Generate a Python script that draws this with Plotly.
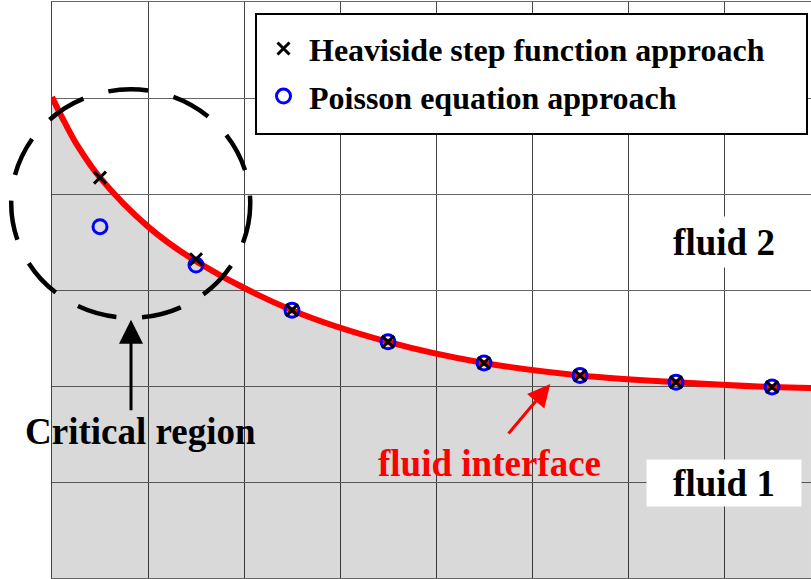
import plotly.graph_objects as go

# ---------------- data (grid-cell units) ----------------
interface_x = [0.0, 0.135, 0.274, 0.5, 1.0, 1.5, 2.5, 3.5, 4.5,
               5.5, 6.5, 7.5, 7.906]
interface_y = [5.01, 4.74, 4.49, 4.17, 3.66, 3.30, 2.79, 2.46, 2.24,
               2.11, 2.04, 1.99, 1.98]

sample_x = [0.5, 1.5, 2.5, 3.5, 4.5, 5.5, 6.5, 7.5]
heaviside_y = [4.17, 3.32, 2.79, 2.46, 2.24, 2.11, 2.04, 1.99]
poisson_y = [3.66, 3.26, 2.79, 2.46, 2.24, 2.11, 2.04, 1.99]

series_names = ["Heaviside step function approach", "Poisson equation approach"]

# ---------------- layout constants ----------------
X_RANGE = [0.0, 759 / 96]
Y_RANGE = [0.0, 6.0]
PLOT_W, PLOT_H = 759, 576
SERIF = "Liberation Serif, Times New Roman, serif"
NBSP = "\u00a0"

# critical region (data units): centre and radii
CRIT_CX, CRIT_CY = 0.82, 3.90
CRIT_RX, CRIT_RY = 1.245, 1.19

# legend frame (paper fractions)
LEG_X0, LEG_X1 = 204 / PLOT_W, 755 / PLOT_W
LEG_Y0, LEG_Y1 = 444 / PLOT_H, 564 / PLOT_H


def px_x(x):
    return (x - X_RANGE[0]) / (X_RANGE[1] - X_RANGE[0])


def px_y(y):
    return (y - Y_RANGE[0]) / (Y_RANGE[1] - Y_RANGE[0])


fig = go.Figure()

fig.add_trace(go.Scatter(
    x=interface_x, y=interface_y, mode="lines",
    line=dict(color="#ff0000", width=6, shape="spline", smoothing=1.0),
    fill="tozeroy", fillcolor="rgba(0,0,0,0.15)",
    showlegend=False, hoverinfo="skip",
))

fig.add_trace(go.Scatter(
    x=sample_x, y=poisson_y, mode="markers", name=series_names[1],
    legendrank=2, legendgroup="p",
    marker=dict(symbol="circle-open", size=14, color="#0000ff",
                line=dict(color="#0000ff", width=3)),
))

fig.add_trace(go.Scatter(
    x=sample_x, y=heaviside_y, mode="markers",
    name=series_names[0],
    legendrank=1, legendgroup="h",
    marker=dict(symbol="x-thin", size=12, color="#000000",
                line=dict(color="#000000", width=3)),
))

# legend frame
fig.add_shape(
    type="rect", xref="paper", yref="paper",
    x0=LEG_X0, x1=LEG_X1, y0=LEG_Y0, y1=LEG_Y1,
    fillcolor="#ffffff", line=dict(color="#000000", width=2), layer="above",
)

# dashed circle marking the critical region (paper refs so it is not clipped)
fig.add_shape(
    type="circle", xref="paper", yref="paper",
    x0=px_x(CRIT_CX - CRIT_RX), x1=px_x(CRIT_CX + CRIT_RX),
    y0=px_y(CRIT_CY - CRIT_RY), y1=px_y(CRIT_CY + CRIT_RY),
    line=dict(color="#000000", width=4.5, dash="40px,26px"),
    layer="above",
)

annotations = [
    # arrow to critical region
    dict(x=0.823, y=2.69, xref="x", yref="y", text="", showarrow=True,
         ax=0, ay=92, arrowhead=2, arrowsize=1.6, arrowwidth=3,
         arrowcolor="#000000"),
    dict(x=0.92, y=1.53, xref="x", yref="y", text="Critical region",
         showarrow=False,
         font=dict(family=SERIF, size=37, color="#000000", weight="bold")),
    # arrow to interface
    dict(x=5.19, y=2.02, xref="x", yref="y", text="", showarrow=True,
         ax=-43, ay=51, arrowhead=2, arrowsize=1.5, arrowwidth=3,
         arrowcolor="#ff0000"),
    dict(x=4.555, y=1.19, xref="x", yref="y", text="fluid interface",
         showarrow=False,
         font=dict(family=SERIF, size=37, color="#ff0000", weight="bold")),
    dict(x=7.0, y=3.495, xref="x", yref="y", text="fluid 2",
         showarrow=False, bgcolor="#ffffff", width=120, height=48,
         font=dict(family=SERIF, size=37, color="#000000", weight="bold")),
    dict(x=7.0, y=0.99, xref="x", yref="y", text="fluid 1",
         showarrow=False, bgcolor="#ffffff", width=152, height=44,
         font=dict(family=SERIF, size=37, color="#000000", weight="bold")),
]

fig.update_layout(
    width=811, height=579, autosize=False,
    margin=dict(l=52, r=0, t=2, b=1, pad=0),
    paper_bgcolor="#ffffff", plot_bgcolor="#ffffff",
    showlegend=True,
    legend=dict(
        x=LEG_X0 + 2 / PLOT_W, y=LEG_Y1 - 2 / PLOT_H,
        xanchor="left", yanchor="top",
        bgcolor="rgba(0,0,0,0)", borderwidth=0,
        font=dict(family=SERIF, size=32, color="#000000", weight="bold"),
        itemwidth=41, tracegroupgap=3,
        title=dict(text=NBSP, font=dict(size=4)),
    ),
    annotations=annotations,
    xaxis=dict(range=X_RANGE, tick0=0, dtick=1, showticklabels=False,
               ticks="", showgrid=True, gridcolor="#444444", gridwidth=1,
               zeroline=False, showline=True, mirror=True,
               linecolor="#666666", linewidth=1, fixedrange=True),
    yaxis=dict(range=Y_RANGE, tick0=0, dtick=1, showticklabels=False,
               ticks="", showgrid=True, gridcolor="#666666", gridwidth=1.3,
               zeroline=False, showline=True, linecolor="#444444",
               linewidth=1, fixedrange=True),
)

fig.write_html("out.html")
